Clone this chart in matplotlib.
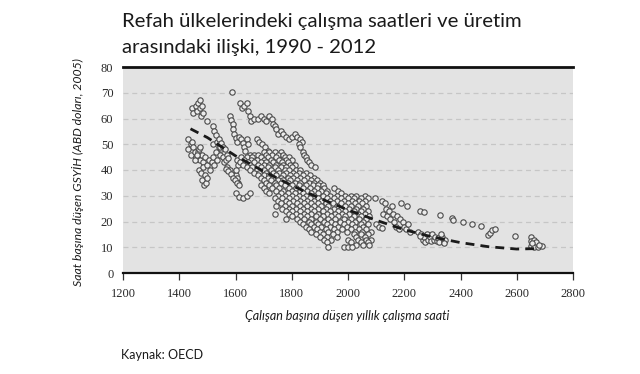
#!/usr/bin/env python3
# calisma saatleri vs uretim, OECD 1990-2012
import numpy as np
import matplotlib.pyplot as plt

# left cluster (1430-1610 h)
left_x = [1430, 1432, 1440, 1445, 1440, 1450, 1455, 1460, 1465, 1470, 1475, 1480, 1485, 1490,
          1470, 1478, 1485, 1492, 1480, 1488, 1495, 1500, 1500, 1505, 1510, 1515, 1520, 1525,
          1530, 1535, 1540, 1545, 1550, 1555, 1560, 1565, 1570, 1580, 1590, 1600, 1605, 1610,
          1455, 1462, 1475, 1520, 1535, 1545, 1605, 1610, 1600]
left_y = [52, 48, 50, 51, 46, 49, 47, 45, 47, 48, 44, 46, 43, 45,
          40, 39, 41, 38, 36, 34, 35, 37, 42, 44, 40, 43, 45, 42,
          47, 44, 49, 46, 48, 45, 43, 44, 41, 40, 39, 38, 37, 35,
          44, 46, 49, 50, 51, 49, 44, 42, 40]

# upper strands
top_x = [1444, 1450, 1458, 1462, 1468, 1472, 1475, 1478, 1480, 1485, 1586,
         1616, 1622, 1630, 1640, 1645, 1650, 1655, 1665, 1680, 1690, 1700, 1710, 1720, 1730,
         1735, 1740, 1745, 1752, 1760, 1770, 1780, 1790, 1800, 1810, 1820, 1830, 1837,
         1825, 1830, 1840, 1845, 1850, 1854, 1860, 1870, 1883]
top_y = [64, 62, 65, 63, 66, 64, 67, 61, 65, 62, 70.4,
         66, 64, 65, 66, 63, 61, 59, 60, 60, 61, 60, 59, 61, 60,
         58, 57, 56, 54, 55, 54, 53, 52, 53, 54, 53, 52, 51,
         50, 49, 47, 46, 45, 44, 43, 42, 41]

strand_x = [1500, 1520, 1525, 1530, 1540, 1548, 1555, 1562, 1570, 1575,
            1580, 1585, 1590, 1592, 1595, 1600, 1605, 1612, 1620, 1625, 1630, 1634, 1640, 1645,
            1675, 1685, 1695, 1705, 1715,
            1565, 1575, 1585, 1592, 1598, 1605, 1612,
            1600, 1612, 1625, 1640, 1652]
strand_y = [59, 57, 55, 53.5, 52, 50.5, 49, 48, 46, 44.5,
            61, 59.5, 58, 56, 54, 52.5, 51, 53, 52, 50.5, 49, 47.5, 52, 50,
            52, 51, 50, 49, 47.5,
            40.5, 39.5, 38.5, 37, 36, 35, 34,
            31, 29.5, 29, 30, 31]

# dense band, one row of x values per y level
band_y = [47, 46, 45, 44, 43, 42, 41, 40, 39, 38, 37, 36, 35, 34, 33, 32, 31, 30, 29, 28,
          27, 26, 25, 24, 23, 22, 21, 20, 19, 18, 17, 16, 15, 14, 13, 12, 11, 10]
band_x = [
    [1700, 1720, 1740, 1760],
    [1650, 1665, 1680, 1710, 1730, 1750, 1770],
    [1620, 1640, 1660, 1690, 1715, 1745, 1775, 1790],
    [1630, 1655, 1675, 1700, 1725, 1755, 1780, 1800],
    [1615, 1645, 1665, 1690, 1710, 1735, 1765, 1785],
    [1625, 1650, 1680, 1700, 1720, 1745, 1770, 1795, 1810],
    [1640, 1660, 1690, 1715, 1740, 1760, 1780, 1800],
    [1650, 1675, 1700, 1725, 1750, 1775, 1790, 1815, 1830],
    [1665, 1685, 1710, 1735, 1755, 1780, 1805, 1825, 1850],
    [1680, 1700, 1720, 1745, 1770, 1795, 1815, 1840, 1865],
    [1690, 1715, 1735, 1760, 1785, 1805, 1830, 1855, 1880],
    [1700, 1725, 1750, 1770, 1795, 1820, 1845, 1870, 1890],
    [1710, 1740, 1760, 1785, 1810, 1830, 1860, 1880, 1900],
    [1690, 1720, 1745, 1775, 1800, 1825, 1850, 1875, 1895, 1910],
    [1700, 1730, 1755, 1790, 1815, 1840, 1865, 1890, 1915, 1950],
    [1710, 1745, 1770, 1800, 1830, 1855, 1880, 1905, 1925, 1965],
    [1720, 1760, 1785, 1810, 1840, 1870, 1895, 1920, 1975],
    [1750, 1775, 1800, 1825, 1850, 1880, 1910, 1935, 1960, 1990, 2010, 2030, 2060],
    [1740, 1765, 1790, 1815, 1840, 1865, 1895, 1925, 1950, 1975, 2000, 2020, 2045, 2070],
    [1750, 1780, 1805, 1830, 1855, 1880, 1905, 1935, 1960, 1985, 2015, 2040, 2060],
    [1760, 1790, 1820, 1845, 1870, 1895, 1920, 1945, 1975, 2000, 2025, 2050],
    [1745, 1775, 1800, 1830, 1855, 1880, 1905, 1930, 1960, 1990, 2010, 2035, 2065],
    [1765, 1790, 1815, 1840, 1870, 1895, 1920, 1950, 1975, 2005, 2030, 2055],
    [1780, 1800, 1830, 1855, 1880, 1910, 1935, 1965, 1990, 2020, 2045, 2070],
    [1740, 1790, 1815, 1845, 1870, 1895, 1925, 1955, 1980, 2005, 2035, 2060],
    [1800, 1830, 1855, 1885, 1910, 1940, 1965, 1990, 2020, 2045, 2075],
    [1780, 1820, 1845, 1870, 1900, 1930, 1955, 1985, 2010, 2040, 2065],
    [1830, 1860, 1885, 1915, 1940, 1970, 2000, 2025, 2055],
    [1840, 1870, 1895, 1925, 1955, 1985, 2015, 2045, 2070],
    [1850, 1880, 1905, 1935, 1965, 1995, 2025, 2055],
    [1860, 1890, 1920, 1950, 1980, 2010, 2040, 2065],
    [1870, 1900, 1930, 1960, 1995, 2025, 2050, 2080],
    [1885, 1910, 1945, 2020, 2045, 2070],
    [1900, 1925, 1960, 2030, 2060],
    [1915, 1940, 2000, 2035, 2065, 2080],
    [1925, 2010, 2045, 2070],
    [2030, 2055, 2075],
    [1930, 1985, 2000, 2015],
]

# scattered points right of the band
mid_x = [2096, 2100, 2110, 2120, 2125, 2130, 2135, 2140, 2145, 2150, 2155, 2160, 2165,
         2170, 2175, 2180, 2185, 2190, 2195, 2200, 2205, 2210, 2215, 2220, 2121]
mid_y = [29, 19, 18, 28, 23, 27, 25, 22, 24, 21, 26, 23, 20,
         18, 22, 17, 21, 27, 20, 18, 17, 26, 19, 16, 17.5]

far_x = [2256, 2270, 2327, 2369, 2374, 2409, 2441, 2473, 2498, 2505, 2511, 2523, 2594]
far_y = [24.2, 23.8, 22.5, 21.4, 20.6, 19.7, 19.0, 18.4, 14.8, 15.7, 16.7, 17.0, 14.4]

c1_x = [2250, 2260, 2265, 2270, 2275, 2280, 2285, 2290, 2295, 2300, 2305, 2310, 2315,
        2320, 2325, 2335, 2340, 2345, 2340, 2255, 2330]
c1_y = [16, 15, 13, 14, 12, 15, 13, 14, 12.5, 15, 13, 14, 12.5,
        13.5, 12, 14, 12.5, 13, 11.5, 14.5, 15]

c2_x = [2650, 2650, 2660, 2665, 2670, 2650, 2660, 2675, 2690, 2680, 2655]
c2_y = [14, 12.5, 13, 11.5, 12, 10.5, 10, 10, 10.5, 11, 11.5]

# dashed trend line
trend_x = [1440, 1500, 1600, 1700, 1800, 1900, 2000, 2100, 2200, 2300, 2400, 2500, 2600, 2680]
trend_y = [56, 52.6, 45.5, 39.5, 34, 29, 24.5, 20.5, 16.8, 14, 11.8, 10.2, 9.3, 9.5]

xticks = [1200, 1400, 1600, 1800, 2000, 2200, 2400, 2600, 2800]
yticks = [0, 10, 20, 30, 40, 50, 60, 70, 80]

bx = [x for row in band_x for x in row]
by = [y for row, y in zip(band_x, band_y) for _ in row]
all_x = np.array(left_x + top_x + strand_x + bx + mid_x + far_x + c1_x + c2_x, dtype=float)
all_y = np.array(left_y + top_y + strand_y + by + mid_y + far_y + c1_y + c2_y, dtype=float)

sans = ['Lato', 'DejaVu Sans']
fig = plt.figure(figsize=(6.4, 3.74), dpi=100)
ax = fig.add_axes([123/640, 1-273/374, 450/640, 206/374])
ax.set_facecolor('#e3e3e3')

ax.scatter(all_x, all_y, s=15, facecolors='#ebebeb', edgecolors='#4a4a4a',
           linewidths=0.8, zorder=3)
ax.plot(trend_x, trend_y, color='#1a1a1a', lw=2, dashes=(3.2, 2.2), zorder=4)

ax.set_xlim(1200, 2800)
ax.set_ylim(0, 80)
ax.set_xticks(xticks)
ax.set_yticks(yticks)
ax.set_xticklabels([str(t) for t in xticks], family='Liberation Serif', fontsize=9, color='#2a2a2a')
ax.set_yticklabels([str(t) for t in yticks], family='Liberation Serif', fontsize=9, color='#2a2a2a')
ax.tick_params(axis='x', direction='out', length=5, width=0.9, color='#333333', pad=6)
ax.tick_params(axis='y', length=0, pad=7)
ax.yaxis.grid(True, color='#c6c6c6', lw=0.9, dashes=(4, 3))
ax.set_axisbelow(True)
for s in ['left', 'right']:
    ax.spines[s].set_visible(False)
ax.spines['top'].set_linewidth(2)
ax.spines['bottom'].set_linewidth(1.6)
ax.spines['top'].set_color('#111111')
ax.spines['bottom'].set_color('#111111')

fig.text(122/640, 1-22/374, 'Refah ülkelerindeki çalışma saatleri ve üretim',
         family=sans, fontsize=14.6, color='#1a1a1a', va='center', ha='left')
fig.text(122/640, 1-48/374, 'arasındaki ilişki, 1990 - 2012',
         family=sans, fontsize=14.6, color='#1a1a1a', va='center', ha='left')
fig.text(78/640, 1-172/374, 'Saat başına düşen GSYİH (ABD doları, 2005)',
         family=sans, style='italic', fontsize=8.8, color='#1a1a1a',
         rotation=90, va='center', ha='center')
fig.text(347/640, 1-316/374, 'Çalışan başına düşen yıllık çalışma saati',
         family=sans, style='italic', fontsize=9, color='#1a1a1a', va='center', ha='center')
fig.text(121/640, 1-355/374, 'Kaynak: OECD', family=sans, fontsize=9,
         color='#1a1a1a', va='center', ha='left')

fig.savefig('out.png', dpi=100, facecolor='white')
